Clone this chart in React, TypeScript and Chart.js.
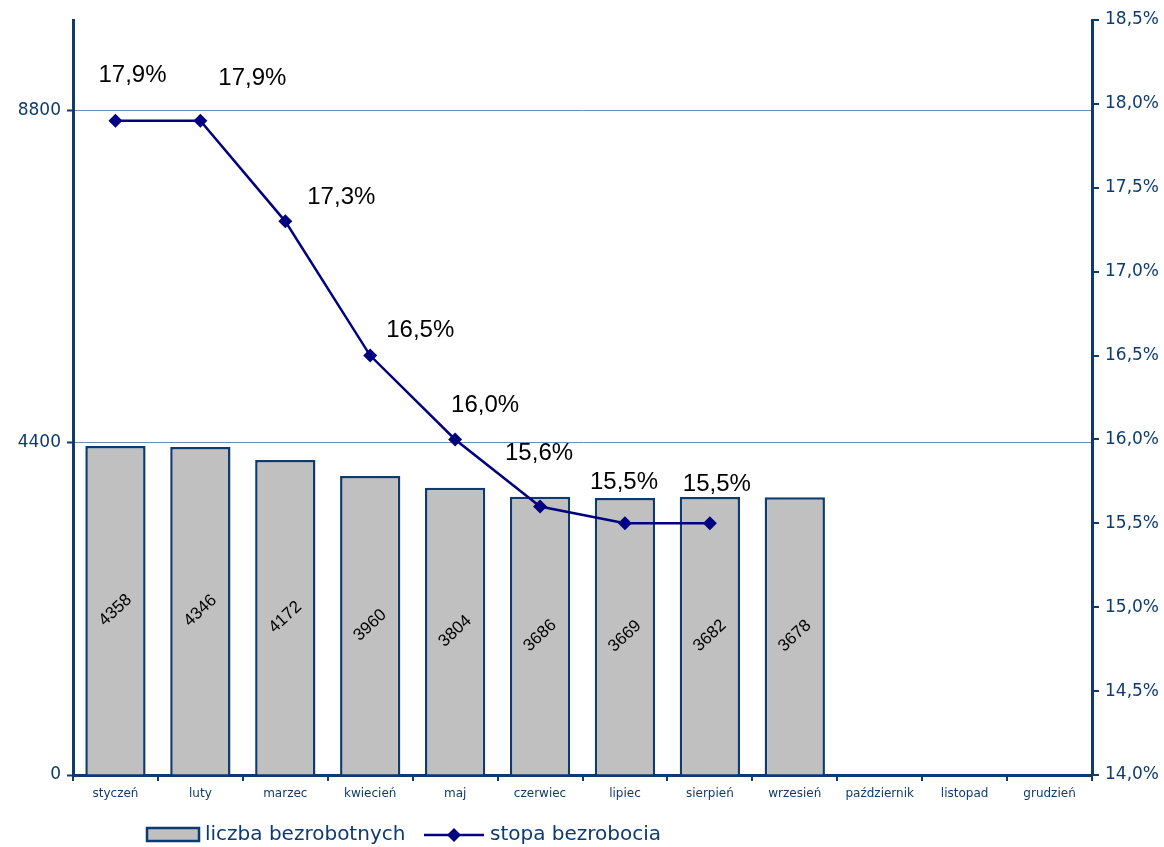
import React, { useEffect, useRef } from "react";
import { Chart, registerables } from "chart.js";

Chart.register(...registerables);

const months = ["styczeń", "luty", "marzec", "kwiecień", "maj", "czerwiec", "lipiec", "sierpień", "wrzesień", "październik", "listopad", "grudzień"];
const unemployed = [4358, 4346, 4172, 3960, 3804, 3686, 3669, 3682, 3678, null, null, null];
const rate = [17.9, 17.9, 17.3, 16.5, 16.0, 15.6, 15.5, 15.5, null, null, null, null];
const leftTicks = [0, 4400, 8800];
const seriesNames = ["liczba bezrobotnych", "stopa bezrobocia"];

// style: per-label offsets (px) of the rate labels relative to their point
const rateLabelOffsets = [[17, -45], [52, -42], [56, -24], [50, -25], [30, -34], [-1, -53], [-1, -41], [7, -39]];

const AXIS = "#0E3B6F";
const fmtPct = (v: number) => v.toFixed(1).replace(".", ",") + "%";

const labelsPlugin = {
  id: "customLabels",
  afterDatasetsDraw(chart: any) {
    const ctx = chart.ctx;
    const barMeta = chart.getDatasetMeta(0);
    ctx.save();
    ctx.fillStyle = "#000";
    ctx.font = "17px Arial, 'Liberation Sans'";
    ctx.textAlign = "center";
    ctx.textBaseline = "middle";
    barMeta.data.forEach((el: any, i: number) => {
      const v = unemployed[i];
      if (v == null) return;
      const cy = (el.y + el.base) / 2;
      ctx.save();
      ctx.translate(el.x, cy);
      ctx.rotate(-0.75);
      ctx.fillText(String(v), 0, 0);
      ctx.restore();
    });
    const lineMeta = chart.getDatasetMeta(1);
    ctx.font = "24px Arial, 'Liberation Sans'";
    lineMeta.data.forEach((el: any, i: number) => {
      const v = rate[i];
      if (v == null) return;
      const off = rateLabelOffsets[i] || [0, -40];
      ctx.fillText(fmtPct(v), el.x + off[0], el.y + off[1]);
    });
    ctx.restore();
  },
  afterDraw(chart: any) {
    const ctx = chart.ctx;
    ctx.save();
    const y = 835;
    ctx.fillStyle = "#C0C0C0";
    ctx.strokeStyle = AXIS;
    ctx.lineWidth = 2.5;
    ctx.fillRect(147, 828, 52, 13);
    ctx.strokeRect(147, 828, 52, 13);
    ctx.fillStyle = AXIS;
    ctx.font = "20px Verdana, 'DejaVu Sans'";
    ctx.textBaseline = "middle";
    ctx.textAlign = "left";
    ctx.fillText(seriesNames[0], 205, y);
    ctx.strokeStyle = "#000080";
    ctx.lineWidth = 2.5;
    ctx.beginPath();
    ctx.moveTo(424, y);
    ctx.lineTo(484, y);
    ctx.stroke();
    ctx.fillStyle = "#000080";
    ctx.beginPath();
    ctx.moveTo(454, y - 7);
    ctx.lineTo(461, y);
    ctx.lineTo(454, y + 7);
    ctx.lineTo(447, y);
    ctx.closePath();
    ctx.fill();
    ctx.fillStyle = AXIS;
    ctx.fillText(seriesNames[1], 490, y);
    ctx.restore();
  },
};

export default function App() {
  const ref = useRef<HTMLCanvasElement>(null);
  useEffect(() => {
    const chart = new Chart(ref.current as HTMLCanvasElement, {
      data: {
        labels: months,
        datasets: [
          {
            type: "bar",
            label: seriesNames[0],
            data: unemployed as any,
            backgroundColor: "#C0C0C0",
            borderColor: AXIS,
            borderWidth: 2.5,
            barPercentage: 0.71,
            categoryPercentage: 1,
            yAxisID: "y",
            order: 2,
          },
          {
            type: "line",
            label: seriesNames[1],
            data: rate as any,
            borderColor: "#000080",
            backgroundColor: "#000080",
            borderWidth: 2.5,
            pointStyle: "rectRot",
            pointRadius: 7,
            pointBorderWidth: 0,
            yAxisID: "y1",
            order: 1,
            spanGaps: false,
          },
        ],
      },
      options: {
        responsive: false,
        animation: false,
        layout: { padding: { top: 20, left: 0, right: 0, bottom: 0 } },
        plugins: { legend: { display: false }, tooltip: { enabled: false } },
        scales: {
          x: {
            offset: true,
            grid: { offset: true, drawOnChartArea: false, tickLength: 6, color: AXIS, lineWidth: 2 },
            border: { color: AXIS, width: 3 },
            ticks: { color: AXIS, font: { family: "Verdana, 'DejaVu Sans'", size: 12 }, padding: 6, maxRotation: 0, autoSkip: false },
            afterFit: (s: any) => { s.height = 72; },
          },
          y: {
            position: "left",
            min: 0,
            max: 10000,
            afterBuildTicks: (s: any) => { s.ticks = leftTicks.map((v) => ({ value: v })); },
            grid: {
              color: (c: any) => (c.tick && c.tick.value === 0 ? "rgba(0,0,0,0)" : "#6F8BB0"),
              lineWidth: 1,
              tickLength: 6,
              tickColor: AXIS,
              tickWidth: 2,
            },
            border: { color: AXIS, width: 3 },
            ticks: { color: AXIS, font: { family: "Verdana, 'DejaVu Sans'", size: 17 }, padding: 6, callback: (v: any) => String(v) },
            afterFit: (s: any) => { s.width = 73; },
          },
          y1: {
            position: "right",
            min: 14,
            max: 18.5,
            ticks: {
              stepSize: 0.5,
              color: AXIS,
              font: { family: "Verdana, 'DejaVu Sans'", size: 17 },
              padding: 6,
              callback: (v: any) => fmtPct(Number(v)),
            },
            grid: { drawOnChartArea: false, tickLength: 7, color: AXIS, lineWidth: 2 },
            border: { color: AXIS, width: 3 },
            afterFit: (s: any) => { s.width = 72; },
          },
        },
      } as any,
      plugins: [labelsPlugin],
    });
    return () => chart.destroy();
  }, []);
  return (
    <div style={{ position: "absolute", left: 0, top: 0, width: 1164, height: 847, background: "#fff" }}>
      <canvas ref={ref} width={1164} height={847} style={{ width: 1164, height: 847 }} />
    </div>
  );
}
